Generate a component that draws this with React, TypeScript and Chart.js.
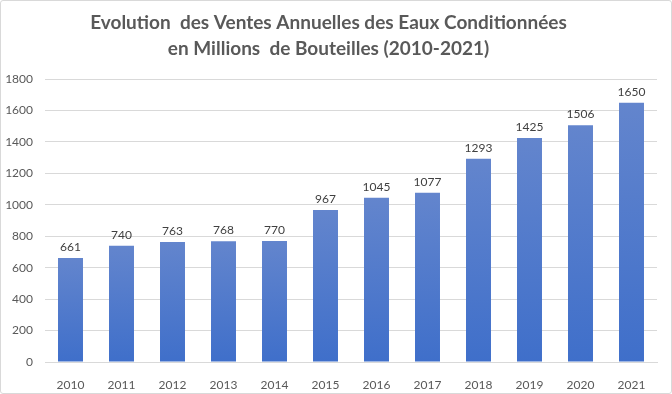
import React, { useEffect, useRef } from "react";
import { Chart, registerables } from "chart.js";

Chart.register(...registerables);

const years = ["2010", "2011", "2012", "2013", "2014", "2015", "2016", "2017", "2018", "2019", "2020", "2021"];
const sales = [661, 740, 763, 768, 770, 967, 1045, 1077, 1293, 1425, 1506, 1650];
const titleLines = [
  "Evolution  des Ventes Annuelles des Eaux Conditionnées",
  "en Millions  de Bouteilles (2010-2021)",
];

const FONT = "Lato, 'Liberation Sans', sans-serif";

const valueLabels = {
  id: "valueLabels",
  afterDatasetsDraw(chart: any) {
    const ctx = chart.ctx;
    const meta = chart.getDatasetMeta(0);
    ctx.save();
    ctx.font = `12px ${FONT}`;
    ctx.fillStyle = "#404040";
    ctx.textAlign = "center";
    ctx.textBaseline = "middle";
    meta.data.forEach((bar: any, i: number) => {
      ctx.fillText(String(chart.data.datasets[0].data[i]), bar.x, bar.y - 11);
    });
    ctx.restore();
  },
};

export default function App() {
  const ref = useRef<HTMLCanvasElement>(null);
  useEffect(() => {
    document.body.style.margin = "0";
    const chart = new Chart(ref.current!, {
      type: "bar",
      data: {
        labels: years,
        datasets: [
          {
            data: sales,
            backgroundColor: (c: any) => {
              const ch = c.chart;
              const area = ch.chartArea;
              if (!area || c.raw == null) return "#4a76cb";
              const yS = ch.scales.y;
              const top = yS.getPixelForValue(c.raw);
              const bottom = yS.getPixelForValue(0);
              const g = ch.ctx.createLinearGradient(0, top, 0, bottom);
              g.addColorStop(0, "#6385cd");
              g.addColorStop(1, "#3f6fca");
              return g;
            },
            barPercentage: 0.49,
            categoryPercentage: 1,
          },
        ],
      },
      options: {
        animation: false,
        responsive: false,
        layout: { padding: { left: 0, right: 15, top: 0, bottom: 0 } },
        plugins: {
          legend: { display: false },
          tooltip: { enabled: false },
          title: {
            display: true,
            text: titleLines,
            color: "#595959",
            font: { family: FONT, size: 19, weight: "bold", lineHeight: 1.37 },
            padding: { top: 10, bottom: 17 },
          },
        },
        scales: {
          x: {
            grid: { display: false },
            border: { display: true, color: "#d9d9d9" },
            ticks: { color: "#595959", font: { family: FONT, size: 12 }, padding: 8 },
            afterFit: (s: any) => {
              s.height = 32;
            },
          },
          y: {
            min: 0,
            max: 1800,
            ticks: {
              stepSize: 200,
              color: "#595959",
              font: { family: FONT, size: 12 },
              padding: 12,
              callback: (v: any) => String(v),
            },
            grid: { color: "#d9d9d9", drawTicks: false },
            border: { display: false },
            afterFit: (s: any) => {
              s.width = 45;
            },
          },
        },
      },
      plugins: [valueLabels],
    });
    return () => chart.destroy();
  }, []);
  return (
    <div style={{ position: "relative", width: 672, height: 394 }}>
      <canvas ref={ref} width={672} height={394} style={{ display: "block" }} />
      <div
        style={{
          position: "absolute",
          left: 0,
          top: 0,
          width: 670,
          height: 392,
          border: "1px solid #d9d9d9",
          borderRadius: 3,
          pointerEvents: "none",
        }}
      />
    </div>
  );
}
